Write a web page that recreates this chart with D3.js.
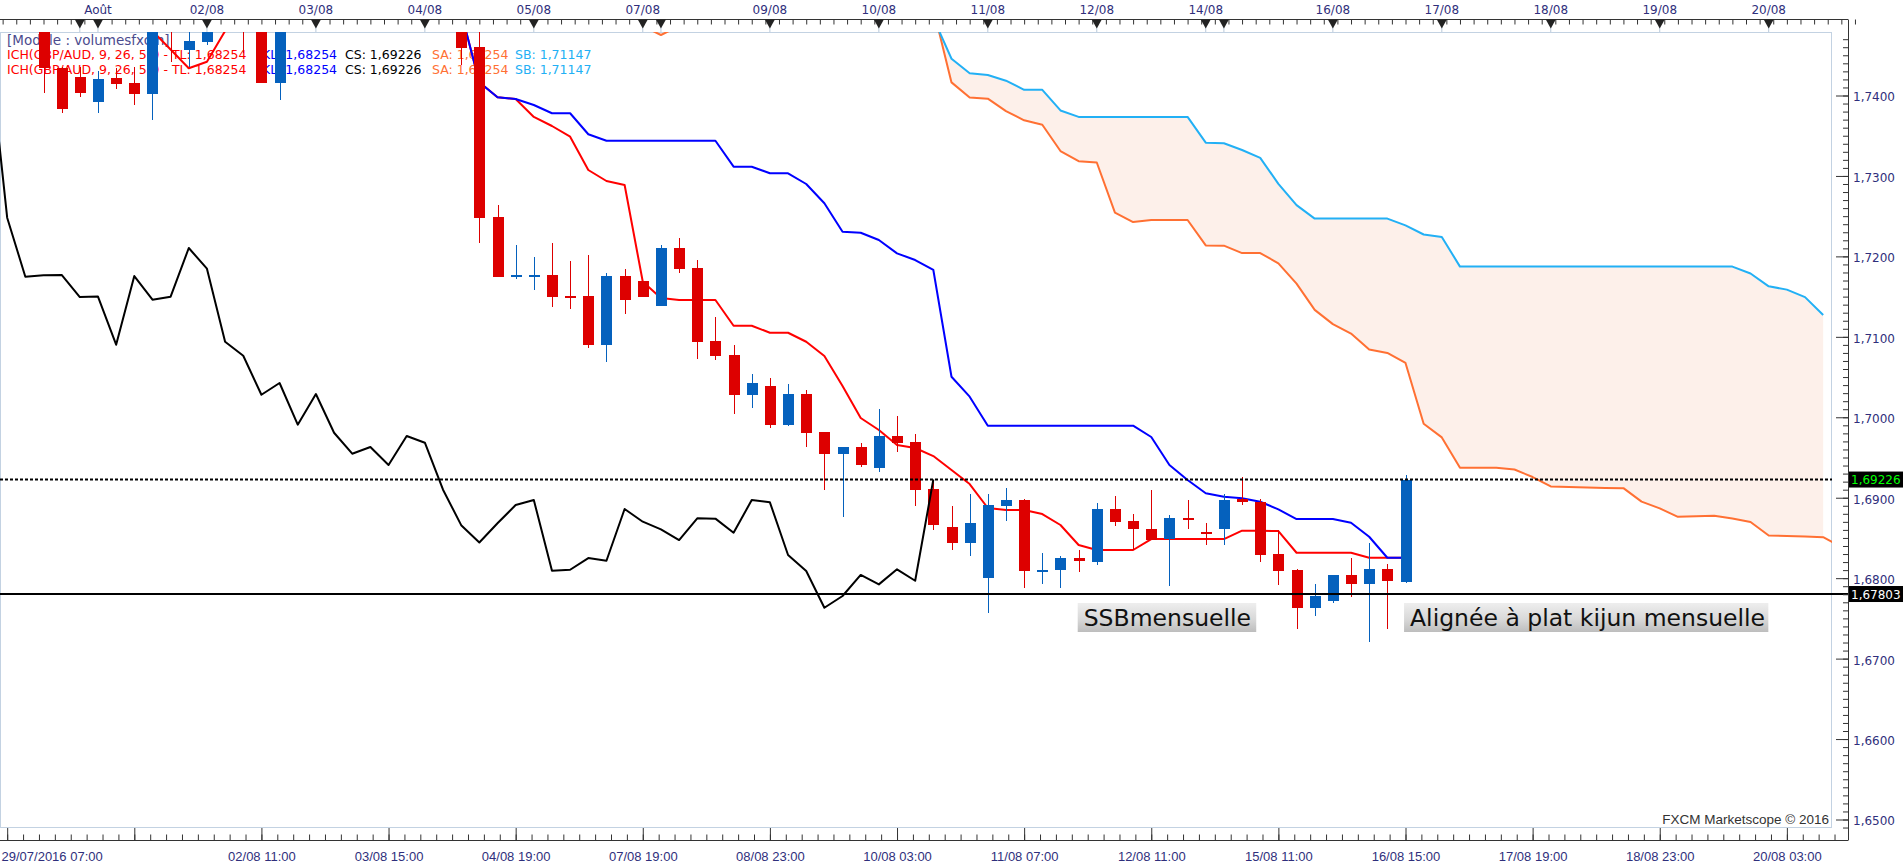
<!DOCTYPE html>
<html>
<head>
<meta charset="utf-8">
<script src="https://d3js.org/d3.v7.min.js"></script>
<style>
  body { margin: 0; background: #fff; overflow: hidden; }
</style>
</head>
<body>
<svg id="chart" width="1903" height="868"></svg>
<script>
// GBP/AUD 4h candles, index 0 = 29/07 15:00 ... 75 = 16/08 15:00
const openVals = [1.7490, 1.74338, 1.74226, 1.73923, 1.74214, 1.74155, 1.74019, 1.7498, 1.74566, 1.74665,
  1.7490, 1.7508, 1.7492, 1.74160, 1.7495, 1.7518, 1.7530, 1.7522, 1.7535, 1.7548,
  1.7532, 1.7520, 1.7512, 1.7500, 1.74607, 1.72490, 1.71755, 1.71760, 1.71769, 1.71510,
  1.71507, 1.70902, 1.71756, 1.71694, 1.71387, 1.72104, 1.71856, 1.70948, 1.70774, 1.70280,
  1.70389, 1.69908, 1.70289, 1.69817, 1.69547, 1.69630, 1.69373, 1.69767, 1.69692, 1.69108,
  1.68638, 1.68443, 1.68005, 1.68900, 1.68971, 1.68101, 1.68105, 1.68250, 1.68204, 1.68860,
  1.68710, 1.68611, 1.68483, 1.68744, 1.68568, 1.68607, 1.68984, 1.68951, 1.68300, 1.68101,
  1.67632, 1.67716, 1.68040, 1.67923, 1.68110, 1.67956];
const highVals = [1.7498, 1.7436, 1.74358, 1.7430, 1.74338, 1.7435, 1.7492, 1.7510, 1.7482, 1.7495,
  1.7515, 1.7512, 1.7498, 1.7500, 1.7525, 1.7540, 1.7552, 1.7545, 1.7560, 1.7565,
  1.7550, 1.7540, 1.7530, 1.7510, 1.7485, 1.72639, 1.72141, 1.71992, 1.72170, 1.71943,
  1.72017, 1.71790, 1.71843, 1.71700, 1.72141, 1.72228, 1.71955, 1.71246, 1.70898, 1.70538,
  1.70488, 1.70417, 1.70339, 1.69820, 1.69630, 1.69684, 1.70102, 1.70015, 1.69788, 1.69200,
  1.68899, 1.69046, 1.69046, 1.69121, 1.68980, 1.68309, 1.68275, 1.68350, 1.68930, 1.69021,
  1.68794, 1.69095, 1.68785, 1.68971, 1.68682, 1.69046, 1.69254, 1.68984, 1.68598, 1.68110,
  1.67923, 1.68040, 1.68254, 1.68433, 1.68176, 1.69282];
const lowVals = [1.74031, 1.73779, 1.73985, 1.73786, 1.74077, 1.73882, 1.73695, 1.74416, 1.74358, 1.74628,
  1.7485, 1.74528, 1.74150, 1.73944, 1.7490, 1.7505, 1.7515, 1.7500, 1.7520, 1.7525,
  1.7505, 1.7498, 1.7490, 1.74380, 1.72163, 1.71740, 1.71719, 1.71582, 1.71374, 1.71350,
  1.70857, 1.70691, 1.71284, 1.71495, 1.71387, 1.71797, 1.70724, 1.70712, 1.70044, 1.70115,
  1.69870, 1.69895, 1.69627, 1.69099, 1.68756, 1.69386, 1.69316, 1.69568, 1.68901, 1.68600,
  1.68356, 1.68270, 1.67563, 1.68714, 1.67874, 1.67923, 1.67881, 1.68080, 1.68163, 1.68648,
  1.68350, 1.68470, 1.67906, 1.68614, 1.68412, 1.68412, 1.68909, 1.68204, 1.67916, 1.67368,
  1.67530, 1.67695, 1.67769, 1.67210, 1.67368, 1.67940];
const closeVals = [1.74342, 1.73832, 1.74035, 1.74209, 1.74143, 1.74019, 1.7485, 1.7488, 1.74681, 1.7490,
  1.7508, 1.7486, 1.74160, 1.7495, 1.7518, 1.7530, 1.7522, 1.7535, 1.7548, 1.7532,
  1.7520, 1.7512, 1.7500, 1.74594, 1.72481, 1.71747, 1.71765, 1.71770, 1.71495, 1.71500,
  1.70902, 1.71756, 1.71462, 1.71499, 1.72104, 1.71847, 1.70939, 1.70765, 1.70280, 1.70426,
  1.69908, 1.70289, 1.69808, 1.69547, 1.69630, 1.69407, 1.69767, 1.69684, 1.69100, 1.68659,
  1.68443, 1.68682, 1.68909, 1.68971, 1.68093, 1.68105, 1.68250, 1.68217, 1.68860, 1.68702,
  1.68607, 1.68474, 1.68744, 1.68740, 1.68565, 1.68971, 1.68943, 1.68288, 1.68089, 1.67632,
  1.67778, 1.68040, 1.67923, 1.68110, 1.67968, 1.69226];

// Ichimoku lines, each with the candle index of its first point
const tenkanStart = 5;
const tenkanVals = [1.7495, 1.74802, 1.74571, 1.74338, 1.74420, 1.74802, 1.7495, 1.7500, 1.7505, 1.7512,
  1.7520, 1.7528, 1.7532, 1.7535, 1.7535, 1.7532, 1.7525, 1.7515, 1.75031, 1.74164,
  1.73978, 1.73956, 1.73733, 1.73621, 1.73488, 1.73074, 1.72937, 1.72887, 1.71685, 1.71483,
  1.71458, 1.71458, 1.71458, 1.71138, 1.71138, 1.71051, 1.71051, 1.70939, 1.70762, 1.70389,
  1.69991, 1.69842, 1.69655, 1.69618, 1.69518, 1.69344, 1.69170, 1.68872, 1.68847, 1.68847,
  1.68797, 1.68661, 1.68412, 1.68350, 1.68350, 1.68350, 1.68486, 1.68486, 1.68486, 1.68486,
  1.68486, 1.68590, 1.68590, 1.68586, 1.68316, 1.68316, 1.68316, 1.68316, 1.68254, 1.68254,
  1.68254];
const kijunStart = 23;
const kijunVals = [1.75031, 1.74164, 1.73978, 1.73956, 1.73882, 1.73779, 1.73779, 1.73518, 1.73438, 1.73438,
  1.73438, 1.73438, 1.73438, 1.73438, 1.73438, 1.73115, 1.73115, 1.73033, 1.73033, 1.72900,
  1.72660, 1.72307, 1.72294, 1.72204, 1.72038, 1.71955, 1.71831, 1.70504, 1.70256, 1.69895,
  1.69895, 1.69895, 1.69895, 1.69895, 1.69895, 1.69895, 1.69895, 1.69895, 1.69755, 1.69407,
  1.69220, 1.69055, 1.69012, 1.68993, 1.68950, 1.68856, 1.68735, 1.68735, 1.68735, 1.68689,
  1.68515, 1.68254, 1.68254];
const chikouStart = -3;
const chikouVals = [1.74594, 1.72481, 1.71747, 1.71765, 1.71770, 1.71495, 1.71500, 1.70902, 1.71756, 1.71462,
  1.71499, 1.72104, 1.71847, 1.70939, 1.70765, 1.70280, 1.70426, 1.69908, 1.70289, 1.69808,
  1.69547, 1.69630, 1.69407, 1.69767, 1.69684, 1.69100, 1.68659, 1.68443, 1.68682, 1.68909,
  1.68971, 1.68093, 1.68105, 1.68250, 1.68217, 1.68860, 1.68702, 1.68607, 1.68474, 1.68744,
  1.68740, 1.68565, 1.68971, 1.68943, 1.68288, 1.68089, 1.67632, 1.67778, 1.68040, 1.67923,
  1.68110, 1.67968, 1.69226];
const spanAStart = 32;
const spanAVals = [1.7510, 1.74864, 1.74752, 1.74864, 1.7502, 1.7510, 1.7518, 1.7522, 1.7525, 1.7528,
  1.7530, 1.7530, 1.7528, 1.7525, 1.7522, 1.7518, 1.7512, 1.7508, 1.74163, 1.73974,
  1.73961, 1.73806, 1.73692, 1.73637, 1.73310, 1.73183, 1.73167, 1.72544, 1.72427, 1.72452,
  1.72452, 1.72452, 1.72136, 1.72133, 1.72041, 1.72041, 1.71914, 1.71662, 1.71335, 1.71158,
  1.71040, 1.70842, 1.70800, 1.70675, 1.69919, 1.69750, 1.69372, 1.69372, 1.69372, 1.69351,
  1.69257, 1.69140, 1.69133, 1.69127, 1.69121, 1.69119, 1.68952, 1.68867, 1.68763, 1.68769,
  1.68775, 1.68741, 1.68699, 1.68531, 1.68524, 1.68519, 1.68510, 1.68387];
const spanBStart = 49;
const spanBVals = [1.74963, 1.74457, 1.74276, 1.74255, 1.74184, 1.74071, 1.74071, 1.73814, 1.73734, 1.73734,
  1.73734, 1.73734, 1.73734, 1.73734, 1.73734, 1.73414, 1.73406, 1.73322, 1.73225, 1.72902,
  1.72637, 1.72470, 1.72470, 1.72470, 1.72470, 1.72470, 1.72385, 1.72272, 1.72242, 1.71873,
  1.71873, 1.71873, 1.71873, 1.71873, 1.71873, 1.71873, 1.71873, 1.71873, 1.71873, 1.71873,
  1.71873, 1.71873, 1.71873, 1.71873, 1.71873, 1.71788, 1.71628, 1.71587, 1.71494, 1.71271];

// horizontal levels
const lastClose = 1.69226;
const monthlyLevel = 1.67803;

// axis labels (candle index positions)
const dayTickIdx = [2, 3, 9, 15, 21, 27, 33, 34, 40, 46, 52, 58, 64, 65, 71, 77, 83, 89, 95];
const dayTickLabels = ["", "Août", "02/08", "03/08", "04/08", "05/08", "07/08", "", "09/08", "10/08",
  "11/08", "12/08", "14/08", "", "16/08", "17/08", "18/08", "19/08", "20/08"];
const timeTickIdx = d3.range(-2, 97, 7);
const timeTickLabels = ["29/07/2016 07:00", "", "02/08 11:00", "03/08 15:00", "04/08 19:00", "07/08 19:00",
  "08/08 23:00", "10/08 03:00", "11/08 07:00", "12/08 11:00", "15/08 11:00", "16/08 15:00",
  "17/08 19:00", "18/08 23:00", "20/08 03:00"];
const priceTicks = d3.range(165, 175).map(d => d / 100);
const priceMinorTicks = d3.range(1649, 1748).map(d => d / 1000);

const legendTitle = "[Modele : volumesfxcm]";
const legendParts = [
  {text: "ICH(GBP/AUD, 9, 26, 52) - TL: 1,68254", color: "#ff0000"},
  {text: "KL: 1,68254", color: "#0000ff"},
  {text: "CS: 1,69226", color: "#000000"},
  {text: "SA: 1,68254", color: "#ff7033"},
  {text: "SB: 1,71147", color: "#22b0f5"}
];

// ---------------- layout ----------------
const plot = {left: 0, top: 32, right: 1832, bottom: 828};
const axisX = 1848;
const navy = "#2f2f7c";
const upColor = "#0561bd", downColor = "#dd0000";

const x = d3.scaleLinear().domain([0, 75]).range([43.5, 1405.5]);
const y = d3.scaleLinear().domain([1.65, 1.74]).range([819.5, 95.5]);
const fmtPrice = v => d3.format(".4f")(v).replace(".", ",");
const fmtPrice5 = v => d3.format(".5f")(v).replace(".", ",");

const svg = d3.select("#chart");
const defs = svg.append("defs");
defs.append("clipPath").attr("id", "plot-clip")
  .append("rect")
  .attr("x", plot.left).attr("y", plot.top)
  .attr("width", plot.right - plot.left).attr("height", plot.bottom - plot.top);

const grad = defs.append("linearGradient").attr("id", "note-bg")
  .attr("x1", 0).attr("y1", 0).attr("x2", 0).attr("y2", 1);
grad.append("stop").attr("offset", "0%").attr("stop-color", "#eeeeee");
grad.append("stop").attr("offset", "55%").attr("stop-color", "#d9d9d9");
grad.append("stop").attr("offset", "100%").attr("stop-color", "#bdbdbd");

// turn value arrays into {k, v} points
function series(start, vals) {
  return vals.map((v, i) => ({k: start + i, v: v}));
}
const tenkan = series(tenkanStart, tenkanVals);
const kijun = series(kijunStart, kijunVals);
const chikou = series(chikouStart, chikouVals);
const spanA = series(spanAStart, spanAVals);
const spanB = series(spanBStart, spanBVals);
const candles = openVals.map((o, i) => ({
  k: i, o: o, h: highVals[i], l: lowVals[i], c: closeVals[i]
}));

const line = d3.line().x(d => x(d.k)).y(d => y(d.v));

// plot frame
svg.append("rect")
  .attr("x", plot.left + 0.5).attr("y", plot.top + 0.5)
  .attr("width", plot.right - plot.left - 1).attr("height", plot.bottom - plot.top - 1)
  .attr("fill", "#fff").attr("stroke", "#c3d2e2");

const g = svg.append("g").attr("clip-path", "url(#plot-clip)");

// cloud
const cloud = spanB.map(d => ({k: d.k, a: spanAVals[d.k - spanAStart], b: d.v}));
g.append("path")
  .datum(cloud)
  .attr("d", d3.area().x(d => x(d.k)).y0(d => y(d.a)).y1(d => y(d.b)))
  .attr("fill", "#fdf0ea");

// legend text sits under the price marks
const legend = g.append("g")
  .style("font-family", "'DejaVu Sans', Verdana, sans-serif")
  .style("font-size", "12.5px");
legend.append("text").attr("x", 7).attr("y", 44.5).attr("fill", "#4b4b8e")
  .style("font-size", "13.5px").text(legendTitle);
const legendX = [7, 262, 345, 432, 515];
[59, 74].forEach(ly => {
  legendParts.forEach((p, i) => {
    legend.append("text").attr("x", legendX[i]).attr("y", ly).attr("fill", p.color).text(p.text);
  });
});

// indicator lines
[[spanA, "#ff7033"], [spanB, "#22b0f5"], [tenkan, "#ff0000"], [kijun, "#0000ff"]].forEach(([data, col]) => {
  g.append("path").datum(data).attr("d", line)
    .attr("fill", "none").attr("stroke", col).attr("stroke-width", 2)
    .attr("stroke-linejoin", "round");
});

// candles
const bodyW = 11;
const cg = g.append("g").attr("shape-rendering", "crispEdges");
const cs = cg.selectAll("g.candle").data(candles).enter().append("g").attr("class", "candle");
cs.append("line")
  .attr("x1", d => Math.round(x(d.k)) + 0.5).attr("x2", d => Math.round(x(d.k)) + 0.5)
  .attr("y1", d => y(d.h)).attr("y2", d => y(d.l))
  .attr("stroke", d => d.c >= d.o ? upColor : downColor).attr("stroke-width", 1);
cs.append("rect")
  .attr("x", d => Math.round(x(d.k)) - 5)
  .attr("width", bodyW)
  .attr("y", d => Math.min(y(d.o), y(d.c)))
  .attr("height", d => Math.max(Math.abs(y(d.o) - y(d.c)), 2))
  .attr("fill", d => d.c >= d.o ? upColor : downColor);

// lagging span
g.append("path").datum(chikou).attr("d", line)
  .attr("fill", "none").attr("stroke", "#000").attr("stroke-width", 2)
  .attr("stroke-linejoin", "round");

// horizontal levels
svg.append("line")
  .attr("x1", 0).attr("x2", plot.right)
  .attr("y1", y(lastClose)).attr("y2", y(lastClose))
  .attr("stroke", "#000").attr("stroke-width", 2).attr("stroke-dasharray", "3,2");
svg.append("line")
  .attr("x1", 0).attr("x2", axisX)
  .attr("y1", y(monthlyLevel)).attr("y2", y(monthlyLevel))
  .attr("stroke", "#000").attr("stroke-width", 2);

// ---------------- top axis ----------------
const topY = 19.5;
svg.append("line").attr("x1", 0).attr("x2", axisX).attr("y1", topY).attr("y2", topY)
  .attr("stroke", "#333").attr("stroke-width", 1);
const topMinor = svg.append("g").attr("transform", `translate(0,${topY})`)
  .call(d3.axisTop(x).tickValues(d3.range(-3, 100, 0.75)).tickSize(-5).tickFormat(""));
topMinor.select(".domain").remove();
topMinor.selectAll(".tick line").attr("stroke", "#333");

const dayG = svg.append("g");
dayTickIdx.forEach((k, i) => {
  const px = x(k);
  dayG.append("line").attr("x1", px).attr("x2", px).attr("y1", 27).attr("y2", plot.top)
    .attr("stroke", "#b9c9da").attr("stroke-width", 1);
  dayG.append("path")
    .attr("d", `M${px - 5},${topY} L${px + 5},${topY} L${px},${topY + 9} Z`)
    .attr("fill", "#222");
  if (dayTickLabels[i]) {
    dayG.append("text").attr("x", px).attr("y", 13.5)
      .attr("text-anchor", "middle")
      .style("font-family", "'DejaVu Sans', Verdana, sans-serif").style("font-size", "12px")
      .attr("fill", navy).text(dayTickLabels[i]);
  }
});

// ---------------- bottom axis ----------------
const botY = 840.5;
svg.append("line").attr("x1", 0).attr("x2", axisX).attr("y1", botY).attr("y2", botY)
  .attr("stroke", "#333").attr("stroke-width", 1);
const botMinor = svg.append("g").attr("transform", `translate(0,${botY})`)
  .call(d3.axisBottom(x).tickValues(d3.range(-2, 99.5, 0.875)).tickSize(-6).tickFormat(""));
botMinor.select(".domain").remove();
botMinor.selectAll(".tick line").attr("stroke", "#333");

const botMajor = svg.append("g").attr("transform", `translate(0,${botY})`)
  .call(d3.axisBottom(x).tickValues(timeTickIdx).tickSize(-(botY - plot.bottom))
    .tickPadding(11).tickFormat((d, i) => timeTickLabels[i]));
botMajor.select(".domain").remove();
botMajor.selectAll(".tick line").attr("stroke", "#333");
botMajor.selectAll(".tick text")
  .attr("fill", navy)
  .style("font-family", "'Liberation Sans', Tahoma, sans-serif").style("font-size", "13px");
botMajor.selectAll(".tick text").filter((d, i) => i === 0)
  .attr("text-anchor", "start").attr("x", -x(-2) + 1);

// ---------------- right axis ----------------
svg.append("line").attr("x1", axisX + 0.5).attr("x2", axisX + 0.5).attr("y1", topY).attr("y2", botY)
  .attr("stroke", "#333").attr("stroke-width", 1);
const rMinor = svg.append("g").attr("transform", `translate(${axisX},0)`)
  .call(d3.axisRight(y).tickValues(priceMinorTicks).tickSize(-5).tickFormat(""));
rMinor.select(".domain").remove();
rMinor.selectAll(".tick line").attr("stroke", "#333");
const rMajor = svg.append("g").attr("transform", `translate(${axisX},0)`)
  .call(d3.axisRight(y).tickValues(priceTicks).tickSize(-12).tickPadding(5).tickFormat(fmtPrice));
rMajor.select(".domain").remove();
rMajor.selectAll(".tick line").attr("stroke", "#333");
rMajor.selectAll(".tick text")
  .attr("dy", "0.45em").attr("fill", navy)
  .style("font-family", "'DejaVu Sans', Verdana, sans-serif").style("font-size", "12px");

// price tags
[[lastClose, "#00ff00"], [monthlyLevel, "#ffffff"]].forEach(([v, col]) => {
  svg.append("rect").attr("x", axisX + 1).attr("y", y(v) - 8).attr("width", 1903 - axisX - 1).attr("height", 16)
    .attr("fill", "#000");
  svg.append("text").attr("x", axisX + 3).attr("y", y(v) + 4.5)
    .style("font-family", "'DejaVu Sans', Verdana, sans-serif").style("font-size", "12px")
    .attr("fill", col).text(fmtPrice5(v));
});

// credit
svg.append("text").attr("x", plot.right - 3).attr("y", 824)
  .attr("text-anchor", "end")
  .style("font-family", "'Liberation Sans', Tahoma, sans-serif").style("font-size", "13.5px")
  .attr("fill", "#333").text("FXCM Marketscope © 2016");

// annotations
function note(k0, k1, text) {
  const x0 = x(k0), x1 = x(k1);
  svg.append("rect").attr("x", x0).attr("y", 603).attr("width", x1 - x0).attr("height", 29)
    .attr("fill", "url(#note-bg)");
  svg.append("text").attr("x", x0 + 6).attr("y", 626)
    .style("font-family", "'DejaVu Sans', Verdana, sans-serif").style("font-size", "23.5px")
    .attr("fill", "#111").text(text);
}
note(56.95, 66.78, "SSBmensuelle");
note(74.92, 94.98, "Alignée à plat kijun mensuelle");
</script>
</body>
</html>
